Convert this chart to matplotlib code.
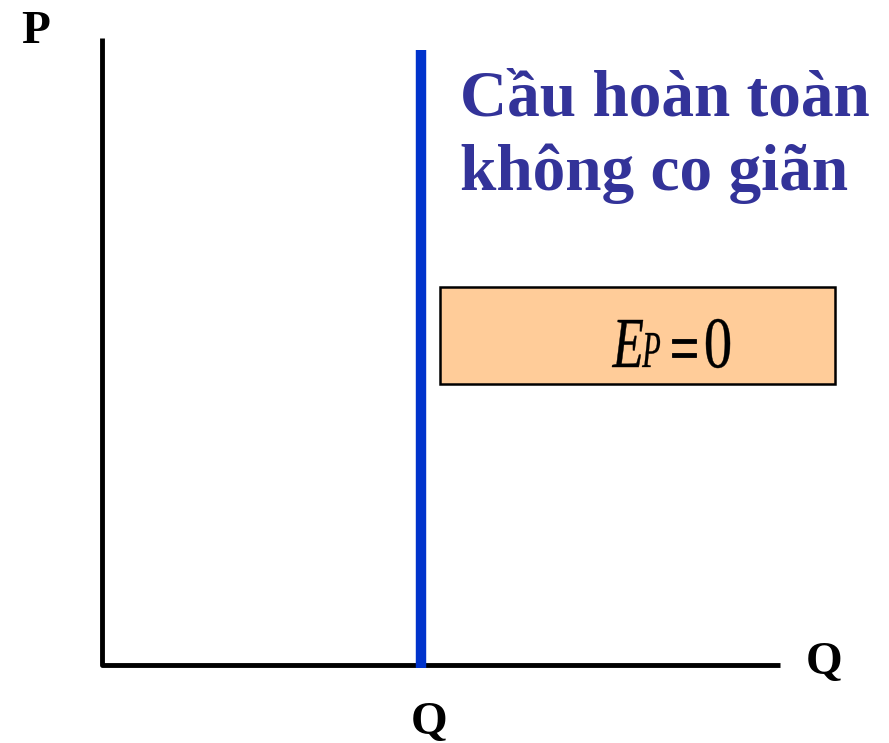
import matplotlib.pyplot as plt
from matplotlib.patches import Rectangle, PathPatch
from matplotlib.textpath import TextPath
from matplotlib.font_manager import FontProperties
from matplotlib.transforms import Affine2D

# perfectly inelastic demand -- vertical line at Q
# coordinates in figure pixels (origin at top-left)
axis_x = [102, 102, 780]
axis_y = [38, 665, 665]
demand_q = [421, 421]
demand_p = [50, 668]

title_lines = ["Cầu hoàn toàn", "không co giãn"]
box = [440, 287, 395, 97]   # x, y, w, h

# E_P = 0 pieces: (text, style, x0, x1, y_top, y_base, extra stroke)
elas_parts = [
    ("E", 'italic', 612, 643, 320, 367, 0.3),
    ("P", 'italic', 642, 660, 333, 367, 0.2),
    ("=", 'normal', 672, 696, 339, 357, 0.6),
    ("0", 'normal', 706, 730, 319, 368, 0.3),
]

fig = plt.figure(figsize=(8.89, 7.43), dpi=100)
ax = fig.add_axes([0, 0, 1, 1])
ax.set_xlim(0, 889)
ax.set_ylim(743, 0)
ax.axis('off')

ax.plot(axis_x, axis_y, color='black', linewidth=3.5, solid_capstyle='butt')
ax.plot(demand_q, demand_p, color='#0033CC', linewidth=7.5, solid_capstyle='butt')

serif = 'Liberation Serif'
ax.text(21, 43, "P", fontsize=34, fontweight='bold', family=serif, ha='left', va='baseline')
ax.text(806, 674, "Q", fontsize=34, fontweight='bold', family=serif, ha='left', va='baseline')
ax.text(429, 734, "Q", fontsize=34, fontweight='bold', family=serif, ha='center', va='baseline')

ax.text(460, 115, title_lines[0], fontsize=47, fontweight='bold', family=serif,
        color='#333399', ha='left', va='baseline')
ax.text(460, 190, title_lines[1], fontsize=47, fontweight='bold', family=serif,
        color='#333399', ha='left', va='baseline')

ax.add_patch(Rectangle((box[0], box[1]), box[2], box[3], facecolor='#FFCC99',
                       edgecolor='black', linewidth=1.8))

# the formula in the box is drawn narrow and tall, so fit each glyph to its box
for txt, style, x0, x1, yt, yb, lw in elas_parts:
    tp = TextPath((0, 0), txt, size=1, prop=FontProperties(family=serif, style=style))
    ext = tp.get_extents()
    sx = (x1 - x0) / ext.width
    sy = (yb - yt) / ext.height
    tr = Affine2D().translate(-ext.x0, -ext.y0).scale(sx, -sy).translate(x0, yb)
    ax.add_patch(PathPatch(tr.transform_path(tp), facecolor='black',
                           edgecolor='black', linewidth=lw))

fig.savefig('out.png', dpi=100)
